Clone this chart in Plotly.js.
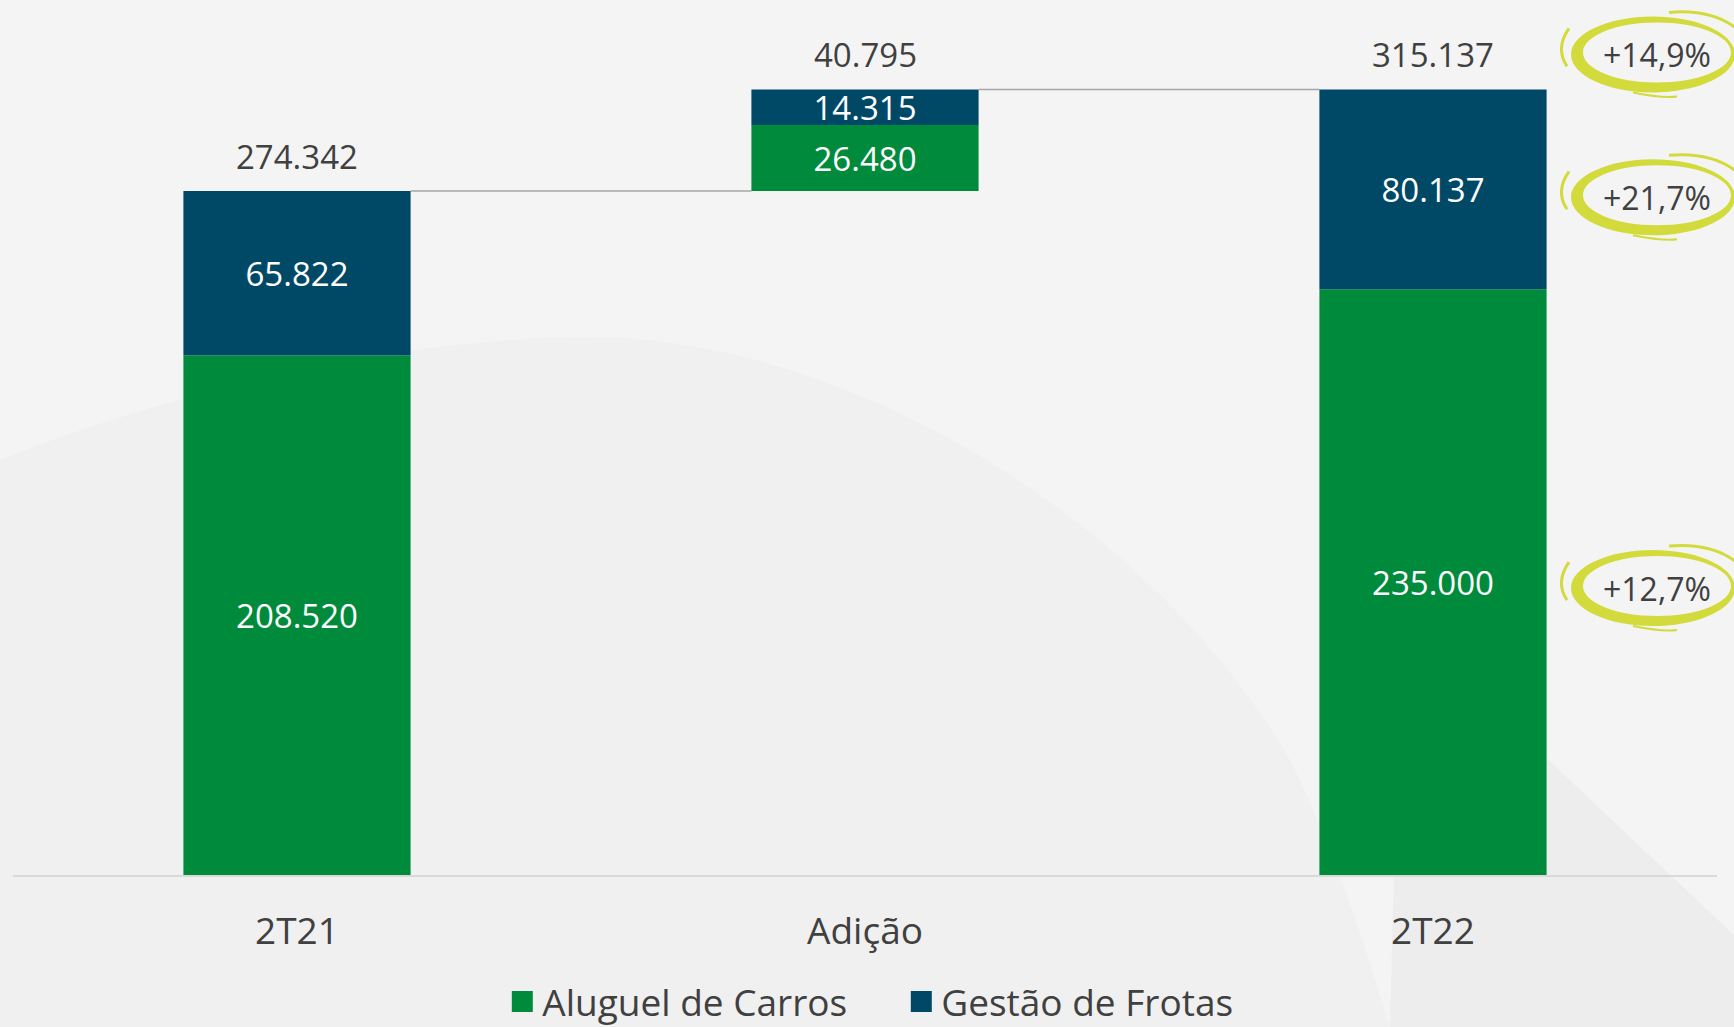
<!DOCTYPE html>
<html><head><meta charset="utf-8">
<script src="https://cdn.plot.ly/plotly-3.0.1.min.js"></script>
<style>html,body{margin:0;padding:0;background:#f4f4f4;} #chart{width:1734px;height:1027px;}</style>
</head><body><div id="chart"></div>
<script>
const categories = ['2T21', 'Adição', '2T22'];
const aluguel = [208520, 26480, 235000];
const gestao = [65822, 14315, 80137];
const totals = [274342, 40795, 315137];
const seriesNames = ['Aluguel de Carros', 'Gestão de Frotas'];
const growthLabels = ['+12,7%', '+21,7%', '+14,9%']; // aluguel, gestão, total (2T22 vs 2T21)

const GREEN = '#008b3c', BLUE = '#004966', TXT = '#404040', SWOOSH = '#d3db3c';
const FONT = 'Open Sans, sans-serif';
const fmt = v => String(v).replace(/\B(?=(\d{3})+(?!\d))/g, '.');

// waterfall bases: the "Adição" column floats on top of the 2T21 total
const start = [0, totals[0], 0];
const blueBase = start.map((s, i) => s + aluguel[i]);
const topVals = blueBase.map((b, i) => b + gestao[i]);

function barTrace(name, vals, base, color) {
  return {
    type: 'bar', name: name, x: categories, y: vals, base: base, width: 0.4,
    marker: {color: color, line: {width: 0}}, showlegend: false,
    text: vals.map(fmt), textposition: 'inside', insidetextanchor: 'middle',
    constraintext: 'none', cliponaxis: false,
    textfont: {family: FONT, size: 33, color: '#ffffff'},
    hoverinfo: 'skip'
  };
}
function legendTrace(name, color) {
  return {type: 'scatter', mode: 'markers', name: name, x: [null], y: [null],
    marker: {symbol: 'square', size: 16, color: color, line: {color: color, width: 5}},
    hoverinfo: 'skip'};
}

const data = [
  barTrace(seriesNames[0], aluguel, start, GREEN),
  barTrace(seriesNames[1], gestao, blueBase, BLUE),
  legendTrace(seriesNames[0], GREEN),
  legendTrace(seriesNames[1], BLUE)
];

const annotations = [];
categories.forEach((c, i) => {
  annotations.push({x: c, y: topVals[i], xref: 'x', yref: 'y', text: fmt(totals[i]),
    showarrow: false, yanchor: 'middle', yshift: 35,
    font: {family: FONT, size: 33, color: TXT}});
});

// growth badges next to the 2T22 column
const last = categories.length - 1;
const lastPaperX = (last + 0.5) / categories.length;
const badgeY = [aluguel[last] / 2, aluguel[last] + gestao[last] / 2, totals[last]];
const badgeShift = [-6, -8, 35];
const k = 0.5523;
function ell(cx, cy, a, b, rev) {
  if (!rev) return `M${cx+a},${cy} C${cx+a},${cy+k*b} ${cx+k*a},${cy+b} ${cx},${cy+b} C${cx-k*a},${cy+b} ${cx-a},${cy+k*b} ${cx-a},${cy} C${cx-a},${cy-k*b} ${cx-k*a},${cy-b} ${cx},${cy-b} C${cx+k*a},${cy-b} ${cx+a},${cy-k*b} ${cx+a},${cy} Z`;
  return `M${cx+a},${cy} C${cx+a},${cy-k*b} ${cx+k*a},${cy-b} ${cx},${cy-b} C${cx-k*a},${cy-b} ${cx-a},${cy-k*b} ${cx-a},${cy} C${cx-a},${cy+k*b} ${cx-k*a},${cy+b} ${cx},${cy+b} C${cx+k*a},${cy+b} ${cx+a},${cy+k*b} ${cx+a},${cy} Z`;
}
const shapes = [];

// soft background swooshes (decoration; pixel points converted to paper fractions)
const PL = 13, PR = 1717, PT = 0, PB = 875;
const px = v => ((v - PL) / (PR - PL)).toFixed(4);
const py = v => ((PB - v) / (PB - PT)).toFixed(4);
function bgPath(pts) {
  return pts.map(p => {
    const c = p.slice(1); const out = [];
    for (let j = 0; j < c.length; j += 2) out.push(px(c[j]) + ',' + py(c[j + 1]));
    return p[0] + out.join(' ');
  }).join(' ') + ' Z';
}
shapes.push({type: 'path', xref: 'paper', yref: 'paper', fillcolor: '#f0f0f0', line: {width: 0}, layer: 'below',
  path: bgPath([['M', 0, 460], ['C', 200, 380, 450, 330, 620, 338], ['C', 860, 350, 1150, 520, 1290, 760],
    ['C', 1330, 840, 1360, 930, 1390, 1027], ['L', 0, 1027]])});
shapes.push({type: 'path', xref: 'paper', yref: 'paper', fillcolor: '#ededed', line: {width: 0}, layer: 'below',
  path: bgPath([['M', 1400, 620], ['L', 1734, 935], ['L', 1734, 1027], ['L', 1390, 1027]])});

growthLabels.forEach((t, i) => {
  const dx = 220, dy = badgeShift[i];
  annotations.push({x: categories[last], y: badgeY[i], xref: 'x', yref: 'y', text: t,
    showarrow: false, xshift: dx + 4, yshift: dy, yanchor: 'middle',
    font: {family: FONT, size: 32, color: TXT}});
  const common = {xref: 'paper', yref: 'y', xsizemode: 'pixel', ysizemode: 'pixel',
    xanchor: lastPaperX, yanchor: badgeY[i], layer: 'above'};
  shapes.push(Object.assign({type: 'path',
    path: ell(dx, dy, 82, 38, false) + ' ' + ell(dx + 4, dy + 2, 74, 30, true),
    fillcolor: SWOOSH, line: {width: 0}}, common));
  shapes.push(Object.assign({type: 'path',
    path: `M${dx-84},${dy+26} Q${dx-98},${dy+6} ${dx-86},${dy-12}`,
    line: {color: SWOOSH, width: 3}}, common));
  shapes.push(Object.assign({type: 'path',
    path: `M${dx+16},${dy+42} Q${dx+62},${dy+46} ${dx+88},${dy+22}`,
    line: {color: SWOOSH, width: 3}}, common));
  shapes.push(Object.assign({type: 'path',
    path: `M${dx-20},${dy-38} Q${dx+10},${dy-44} ${dx+24},${dy-42}`,
    line: {color: SWOOSH, width: 2}}, common));
});

// connector lines of the waterfall
for (let i = 0; i < categories.length - 1; i++) {
  shapes.push({type: 'line', xref: 'x', yref: 'y', x0: i + 0.2, x1: i + 0.8,
    y0: topVals[i], y1: topVals[i], line: {color: '#a6a6a6', width: 1.5}, layer: 'below'});
}

const layout = {
  width: 1734, height: 1027,
  margin: {l: PL, r: 1734 - PR, t: PT, b: 1027 - PB},
  paper_bgcolor: '#f4f4f4', plot_bgcolor: 'rgba(0,0,0,0)',
  barmode: 'overlay', showlegend: true,
  xaxis: {type: 'category', range: [-0.5, 2.5], showline: true, linecolor: '#d9d9d9', linewidth: 2,
    ticks: '', showgrid: false, zeroline: false, ticklabelstandoff: 23, fixedrange: true,
    tickfont: {family: FONT, size: 37, color: TXT}},
  yaxis: {range: [0, 351000], visible: false, showgrid: false, zeroline: false, fixedrange: true},
  legend: {orientation: 'h', xref: 'paper', yref: 'container', x: 0.5213, xanchor: 'center',
    y: 0.0245, yanchor: 'middle', traceorder: 'normal', entrywidth: 354, entrywidthmode: 'pixels',
    font: {family: FONT, size: 37, color: TXT}, bgcolor: 'rgba(0,0,0,0)'},
  annotations: annotations, shapes: shapes
};

Plotly.newPlot('chart', data, layout, {displayModeBar: false, staticPlot: true});
</script></body></html>
